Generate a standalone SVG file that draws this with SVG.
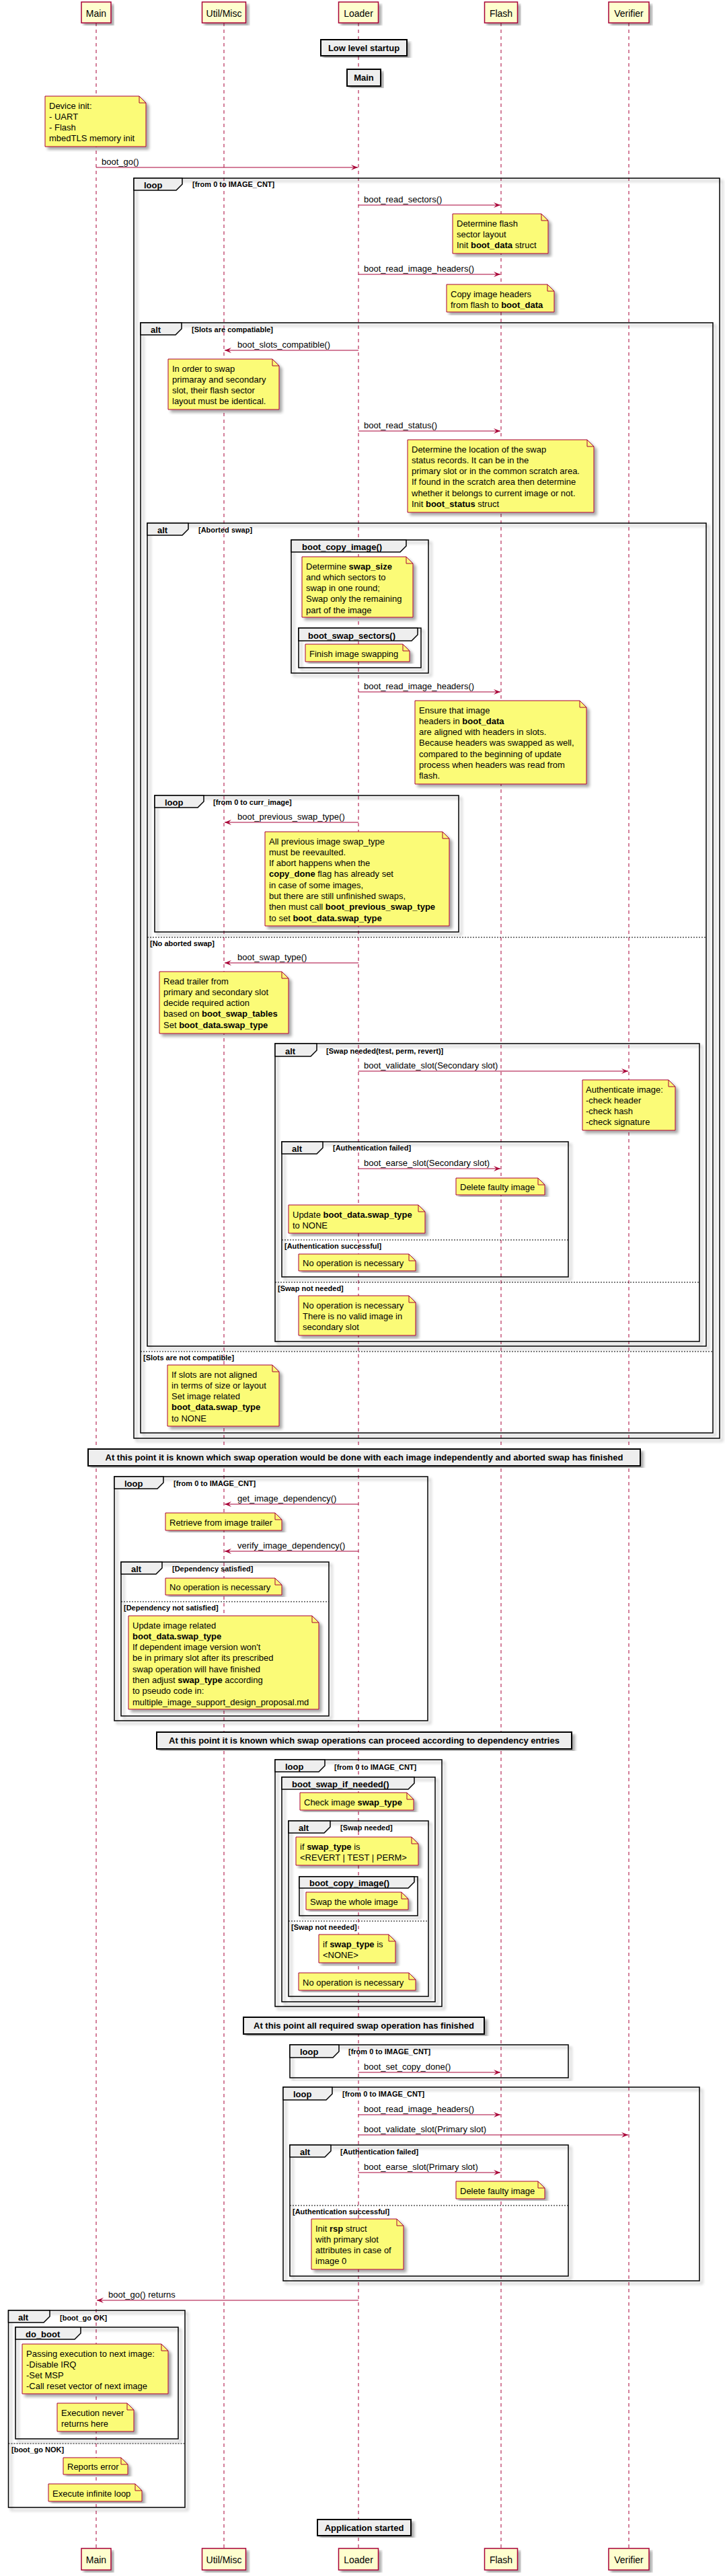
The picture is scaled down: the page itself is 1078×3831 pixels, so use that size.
<svg xmlns="http://www.w3.org/2000/svg" width="1078" height="3831" viewBox="0 0 1078 3831">
<defs>
<filter id="sh" x="-5%" y="-5%" width="115%" height="115%">
<feGaussianBlur in="SourceAlpha" stdDeviation="2"/>
<feOffset dx="4" dy="4" result="o"/>
<feComponentTransfer in="o" result="s"><feFuncA type="linear" slope="0.35"/></feComponentTransfer>
<feMerge><feMergeNode in="s"/><feMergeNode in="SourceGraphic"/></feMerge>
</filter>
<marker id="ah" viewBox="0 0 10 8" refX="10" refY="4" markerWidth="10" markerHeight="8" markerUnits="userSpaceOnUse" orient="auto">
<path d="M0,0 L10,4 L0,8 L4,4 Z" fill="#A80036"/>
</marker>
<style>
text{font-family:"Liberation Sans",Arial,sans-serif;fill:#000}
.ll{stroke:#A80036;stroke-width:1;stroke-dasharray:5,5}
.p{fill:#FEFECE;stroke:#A80036;stroke-width:1.5;filter:url(#sh)}
.pt{font-size:14px}
.msg{stroke:#A80036;stroke-width:1;fill:none;marker-end:url(#ah)}
.mt{font-size:13px}
.nb{fill:#FBFB77;stroke:#A80036;stroke-width:1;filter:url(#sh)}
.nf{fill:none;stroke:#A80036;stroke-width:1}
.nt{font-size:13px}
.fr{fill:none;stroke:#000;stroke-width:1.5;filter:url(#sh)}
.tab{fill:#EEEEEE;stroke:#000;stroke-width:1.5}
.kw{font-size:13px;font-weight:bold}
.fl{font-size:11px;font-weight:bold}
.sep{stroke:#000;stroke-width:1;stroke-dasharray:2,2}
.dl{stroke:#000;stroke-width:1;filter:url(#sh)}
.db{fill:#EEEEEE;stroke:#000;stroke-width:2;filter:url(#sh)}
.dt{font-size:13px;font-weight:bold;text-anchor:middle}
b,.b{font-weight:bold}
</style>
</defs>
<rect x="0" y="0" width="1078" height="3831" fill="#FFFFFF"/>

<g id="lifelines">
<line class="ll" x1="143" y1="34" x2="143" y2="3790"/>
<line class="ll" x1="333" y1="34" x2="333" y2="3790"/>
<line class="ll" x1="533" y1="34" x2="533" y2="3790"/>
<line class="ll" x1="745" y1="34" x2="745" y2="3790"/>
<line class="ll" x1="935" y1="34" x2="935" y2="3790"/>
</g>

<g id="participants">
<g id="p-main"><rect class="p" x="121" y="3" width="44" height="31"/><text class="pt" x="143" y="24.5" text-anchor="middle">Main</text>
<rect class="p" x="121" y="3790" width="44" height="32"/><text class="pt" x="143" y="3811.5" text-anchor="middle">Main</text></g>
<g id="p-util"><rect class="p" x="300.5" y="3" width="65" height="31"/><text class="pt" x="333" y="24.5" text-anchor="middle">Util/Misc</text>
<rect class="p" x="300.5" y="3790" width="65" height="32"/><text class="pt" x="333" y="3811.5" text-anchor="middle">Util/Misc</text></g>
<g id="p-loader"><rect class="p" x="503.5" y="3" width="59" height="31"/><text class="pt" x="533" y="24.5" text-anchor="middle">Loader</text>
<rect class="p" x="503.5" y="3790" width="59" height="32"/><text class="pt" x="533" y="3811.5" text-anchor="middle">Loader</text></g>
<g id="p-flash"><rect class="p" x="720.5" y="3" width="49" height="31"/><text class="pt" x="745" y="24.5" text-anchor="middle">Flash</text>
<rect class="p" x="720.5" y="3790" width="49" height="32"/><text class="pt" x="745" y="3811.5" text-anchor="middle">Flash</text></g>
<g id="p-verifier"><rect class="p" x="905" y="3" width="60" height="31"/><text class="pt" x="935" y="24.5" text-anchor="middle">Verifier</text>
<rect class="p" x="905" y="3790" width="60" height="32"/><text class="pt" x="935" y="3811.5" text-anchor="middle">Verifier</text></g>
</g>

<g id="dividers">
<g id="d1"><line class="dl" x1="0" y1="69.5" x2="1078" y2="69.5"/><line class="dl" x1="0" y1="72.5" x2="1078" y2="72.5"/>
<rect class="db" x="477" y="59" width="128" height="24"/><text class="dt" x="541" y="75.5">Low level startup</text></g>
<g id="d2"><line class="dl" x1="0" y1="114" x2="1078" y2="114"/><line class="dl" x1="0" y1="117" x2="1078" y2="117"/>
<rect class="db" x="516" y="103" width="50" height="25"/><text class="dt" x="541" y="120">Main</text></g>
<g id="d3"><line class="dl" x1="0" y1="2166" x2="1078" y2="2166"/><line class="dl" x1="0" y1="2169" x2="1078" y2="2169"/>
<rect class="db" x="131" y="2155" width="821" height="25"/><text class="dt" x="541.5" y="2172">At this point it is known which swap operation would be done with each image independently and aborted swap has finished</text></g>
<g id="d4"><line class="dl" x1="0" y1="2587" x2="1078" y2="2587"/><line class="dl" x1="0" y1="2590" x2="1078" y2="2590"/>
<rect class="db" x="233" y="2576" width="617" height="25"/><text class="dt" x="541.5" y="2593">At this point it is known which swap operations can proceed according to dependency entries</text></g>
<g id="d5"><line class="dl" x1="0" y1="3011" x2="1078" y2="3011"/><line class="dl" x1="0" y1="3014" x2="1078" y2="3014"/>
<rect class="db" x="362" y="3000" width="358" height="25"/><text class="dt" x="541" y="3017">At this point all required swap operation has finished</text></g>
<g id="d6"><line class="dl" x1="0" y1="3757.5" x2="1078" y2="3757.5"/><line class="dl" x1="0" y1="3760.5" x2="1078" y2="3760.5"/>
<rect class="db" x="472" y="3747" width="139" height="24"/><text class="dt" x="541.5" y="3763.5">Application started</text></g>
</g>

<g id="frames">
<g id="f1"><rect class="fr" x="199" y="265" width="871" height="1874"/><path class="tab" d="M199,265 H271 V274 L262,283 H199 Z"/>
<text class="kw" x="214" y="280">loop</text><text class="fl" x="286" y="278">[from 0 to IMAGE_CNT]</text></g>
<g id="f2"><rect class="fr" x="209" y="480" width="851" height="1651"/><path class="tab" d="M209,480 H270 V489 L261,498 H209 Z"/>
<text class="kw" x="224" y="495">alt</text><text class="fl" x="285" y="494">[Slots are compatiable]</text>
<line class="sep" x1="209" y1="2010" x2="1060" y2="2010"/><text class="fl" x="213" y="2023">[Slots are not compatible]</text></g>
<g id="f3"><rect class="fr" x="219" y="778" width="831" height="1224"/><path class="tab" d="M219,778 H280 V787 L271,796 H219 Z"/>
<text class="kw" x="234" y="793">alt</text><text class="fl" x="295" y="792">[Aborted swap]</text>
<line class="sep" x1="219" y1="1394" x2="1050" y2="1394"/><text class="fl" x="223" y="1407">[No aborted swap]</text></g>
<g id="f4"><rect class="fr" x="433" y="803" width="204" height="198"/><path class="tab" d="M433,803 H604 V812 L595,821 H433 Z"/>
<text class="kw" x="449" y="818">boot_copy_image()</text></g>
<g id="f5"><rect class="fr" x="444" y="934" width="182" height="59"/><path class="tab" d="M444,934 H621 V944 L612,953 H444 Z"/>
<text class="kw" x="458" y="949.5">boot_swap_sectors()</text></g>
<g id="f6"><rect class="fr" x="230" y="1183" width="452" height="203"/><path class="tab" d="M230,1183 H303 V1192 L294,1201 H230 Z"/>
<text class="kw" x="245" y="1198">loop</text><text class="fl" x="317" y="1197">[from 0 to curr_image]</text></g>
<g id="f7"><rect class="fr" x="409" y="1552" width="631" height="443"/><path class="tab" d="M409,1552 H471 V1562 L462,1571 H409 Z"/>
<text class="kw" x="424" y="1568">alt</text><text class="fl" x="485" y="1567">[Swap needed(test, perm, revert)]</text>
<line class="sep" x1="409" y1="1907" x2="1040" y2="1907"/><text class="fl" x="413" y="1920">[Swap not needed]</text></g>
<g id="f8"><rect class="fr" x="419" y="1698" width="426" height="201"/><path class="tab" d="M419,1698 H480 V1707 L471,1716 H419 Z"/>
<text class="kw" x="434" y="1713">alt</text><text class="fl" x="495" y="1711">[Authentication failed]</text>
<line class="sep" x1="419" y1="1844" x2="845" y2="1844"/><text class="fl" x="423" y="1857">[Authentication successful]</text></g>
<g id="f9"><rect class="fr" x="170" y="2196" width="466" height="363"/><path class="tab" d="M170,2196 H243 V2205 L234,2214 H170 Z"/>
<text class="kw" x="185" y="2211">loop</text><text class="fl" x="258" y="2210">[from 0 to IMAGE_CNT]</text></g>
<g id="f10"><rect class="fr" x="180" y="2323" width="309" height="229"/><path class="tab" d="M180,2323 H241 V2332 L232,2341 H180 Z"/>
<text class="kw" x="195" y="2338">alt</text><text class="fl" x="256" y="2337">[Dependency satisfied]</text>
<line class="sep" x1="180" y1="2382" x2="489" y2="2382"/><text class="fl" x="184" y="2395">[Dependency not satisfied]</text></g>
<g id="f11"><rect class="fr" x="409" y="2617" width="248" height="367"/><path class="tab" d="M409,2617 H483 V2626 L474,2635 H409 Z"/>
<text class="kw" x="424" y="2632">loop</text><text class="fl" x="497" y="2632">[from 0 to IMAGE_CNT]</text></g>
<g id="f12"><rect class="fr" x="419" y="2643" width="228" height="334"/><path class="tab" d="M419,2643 H616 V2652 L607,2661 H419 Z"/>
<text class="kw" x="434" y="2658">boot_swap_if_needed()</text></g>
<g id="f13"><rect class="fr" x="429" y="2708" width="208" height="261"/><path class="tab" d="M429,2708 H491 V2717 L482,2726 H429 Z"/>
<text class="kw" x="444" y="2723">alt</text><text class="fl" x="506" y="2722">[Swap needed]</text>
<line class="sep" x1="429" y1="2857" x2="637" y2="2857"/><text class="fl" x="433" y="2870">[Swap not needed]</text></g>
<g id="f14"><rect class="fr" x="445" y="2791" width="176" height="58"/><path class="tab" d="M445,2791 H616 V2799 L607,2808 H445 Z"/>
<text class="kw" x="460" y="2805">boot_copy_image()</text></g>
<g id="f15"><rect class="fr" x="431" y="3041" width="414" height="49"/><path class="tab" d="M431,3041 H504 V3051 L495,3060 H431 Z"/>
<text class="kw" x="446" y="3056">loop</text><text class="fl" x="518" y="3055">[from 0 to IMAGE_CNT]</text></g>
<g id="f16"><rect class="fr" x="421" y="3104" width="619" height="288"/><path class="tab" d="M421,3104 H494 V3114 L485,3123 H421 Z"/>
<text class="kw" x="436" y="3119">loop</text><text class="fl" x="509" y="3118">[from 0 to IMAGE_CNT]</text></g>
<g id="f17"><rect class="fr" x="431" y="3190" width="414" height="195"/><path class="tab" d="M431,3190 H492 V3199 L483,3208 H431 Z"/>
<text class="kw" x="446" y="3205">alt</text><text class="fl" x="506" y="3204">[Authentication failed]</text>
<line class="sep" x1="431" y1="3280" x2="845" y2="3280"/><text class="fl" x="435" y="3293">[Authentication successful]</text></g>
<g id="f18"><rect class="fr" x="12.5" y="3436" width="262.5" height="293"/><path class="tab" d="M12.5,3436 H74 V3445 L65,3454 H12.5 Z"/>
<text class="kw" x="27" y="3451">alt</text><text class="fl" x="89" y="3451">[boot_go OK]</text>
<line class="sep" x1="12.5" y1="3634" x2="275" y2="3634"/><text class="fl" x="17" y="3647">[boot_go NOK]</text></g>
<g id="f19"><rect class="fr" x="23" y="3461" width="242" height="166"/><path class="tab" d="M23,3461 H120 V3470 L111,3479 H23 Z"/>
<text class="kw" x="38" y="3476">do_boot</text></g>
</g>

<g id="notes">
<g id="n1"><path class="nb" d="M67,143 L67,218 L217,218 L217,153 L207,143 Z"/><path class="nf" d="M207,143 L207,153 L217,153"/>
<text class="nt" x="73" y="161.5"><tspan x="73">Device init:</tspan><tspan x="73" dy="16.3">- UART</tspan><tspan x="73" dy="16.3">- Flash</tspan><tspan x="73" dy="16.3">mbedTLS memory init</tspan></text></g>
<g id="n2"><path class="nb" d="M673,318 L673,377 L815,377 L815,328 L805,318 Z"/><path class="nf" d="M805,318 L805,328 L815,328"/>
<text class="nt" x="679" y="336.5"><tspan x="679">Determine flash</tspan><tspan x="679" dy="16.3">sector layout</tspan><tspan x="679" dy="16.3">Init <tspan class="b">boot_data</tspan> struct</tspan></text></g>
<g id="n3"><path class="nb" d="M664,423 L664,464 L824,464 L824,433 L814,423 Z"/><path class="nf" d="M814,423 L814,433 L824,433"/>
<text class="nt" x="670" y="441.5"><tspan x="670">Copy image headers</tspan><tspan x="670" dy="16.3">from flash to <tspan class="b">boot_data</tspan></tspan></text></g>
<g id="n4"><path class="nb" d="M250,534 L250,609 L415,609 L415,544 L405,534 Z"/><path class="nf" d="M405,534 L405,544 L415,544"/>
<text class="nt" x="256" y="552.5"><tspan x="256">In order to swap</tspan><tspan x="256" dy="16.3">primaray and secondary</tspan><tspan x="256" dy="16.3">slot, their flash sector</tspan><tspan x="256" dy="16.3">layout must be identical.</tspan></text></g>
<g id="n5"><path class="nb" d="M606,654 L606,762 L883,762 L883,664 L873,654 Z"/><path class="nf" d="M873,654 L873,664 L883,664"/>
<text class="nt" x="612" y="672.5"><tspan x="612">Determine the location of the swap</tspan><tspan x="612" dy="16.3">status records. It can be in the</tspan><tspan x="612" dy="16.3">primary slot or in the common scratch area.</tspan><tspan x="612" dy="16.3">If found in the scratch area then determine</tspan><tspan x="612" dy="16.3">whether it belongs to current image or not.</tspan><tspan x="612" dy="16.3">Init <tspan class="b">boot_status</tspan> struct</tspan></text></g>
<g id="n6"><path class="nb" d="M449,828 L449,918 L614,918 L614,838 L604,828 Z"/><path class="nf" d="M604,828 L604,838 L614,838"/>
<text class="nt" x="455" y="846.5"><tspan x="455">Determine <tspan class="b">swap_size</tspan></tspan><tspan x="455" dy="16.3">and which sectors to</tspan><tspan x="455" dy="16.3">swap in one round;</tspan><tspan x="455" dy="16.3">Swap only the remaining</tspan><tspan x="455" dy="16.3">part of the image</tspan></text></g>
<g id="n7"><path class="nb" d="M454,958 L454,984 L609,984 L609,968 L599,958 Z"/><path class="nf" d="M599,958 L599,968 L609,968"/>
<text class="nt" x="460" y="976.5">Finish image swapping</text></g>
<g id="n8"><path class="nb" d="M617,1042 L617,1166 L872,1166 L872,1052 L862,1042 Z"/><path class="nf" d="M862,1042 L862,1052 L872,1052"/>
<text class="nt" x="623" y="1060.5"><tspan x="623">Ensure that image</tspan><tspan x="623" dy="16.3">headers in <tspan class="b">boot_data</tspan></tspan><tspan x="623" dy="16.3">are aligned with headers in slots.</tspan><tspan x="623" dy="16.3">Because headers was swapped as well,</tspan><tspan x="623" dy="16.3">compared to the beginning of update</tspan><tspan x="623" dy="16.3">process when headers was read from</tspan><tspan x="623" dy="16.3">flash.</tspan></text></g>
<g id="n9"><path class="nb" d="M394,1237 L394,1377 L668,1377 L668,1247 L658,1237 Z"/><path class="nf" d="M658,1237 L658,1247 L668,1247"/>
<text class="nt" x="400" y="1255.5"><tspan x="400">All previous image swap_type</tspan><tspan x="400" dy="16.3">must be reevaulted.</tspan><tspan x="400" dy="16.3">If abort happens when the</tspan><tspan x="400" dy="16.3"><tspan class="b">copy_done</tspan> flag has already set</tspan><tspan x="400" dy="16.3">in case of some images,</tspan><tspan x="400" dy="16.3">but there are still unfinished swaps,</tspan><tspan x="400" dy="16.3">then must call <tspan class="b">boot_previous_swap_type</tspan></tspan><tspan x="400" dy="16.3">to set <tspan class="b">boot_data.swap_type</tspan></tspan></text></g>
<g id="n10"><path class="nb" d="M237,1445 L237,1537 L429,1537 L429,1455 L419,1445 Z"/><path class="nf" d="M419,1445 L419,1455 L429,1455"/>
<text class="nt" x="243" y="1463.5"><tspan x="243">Read trailer from</tspan><tspan x="243" dy="16.3">primary and secondary slot</tspan><tspan x="243" dy="16.3">decide required action</tspan><tspan x="243" dy="16.3">based on <tspan class="b">boot_swap_tables</tspan></tspan><tspan x="243" dy="16.3">Set  <tspan class="b">boot_data.swap_type</tspan></tspan></text></g>
<g id="n11"><path class="nb" d="M866,1606 L866,1681 L1004,1681 L1004,1616 L994,1606 Z"/><path class="nf" d="M994,1606 L994,1616 L1004,1616"/>
<text class="nt" x="871" y="1624.5"><tspan x="871">Authenticate image:</tspan><tspan x="871" dy="16.3">-check header</tspan><tspan x="871" dy="16.3">-check hash</tspan><tspan x="871" dy="16.3">-check signature</tspan></text></g>
<g id="n12"><path class="nb" d="M678,1752 L678,1777 L810,1777 L810,1762 L800,1752 Z"/><path class="nf" d="M800,1752 L800,1762 L810,1762"/>
<text class="nt" x="684" y="1770">Delete faulty image</text></g>
<g id="n13"><path class="nb" d="M429,1792 L429,1834 L632,1834 L632,1802 L622,1792 Z"/><path class="nf" d="M622,1792 L622,1802 L632,1802"/>
<text class="nt" x="435" y="1810.5"><tspan x="435">Update <tspan class="b">boot_data.swap_type</tspan></tspan><tspan x="435" dy="16.3">to NONE</tspan></text></g>
<g id="n14"><path class="nb" d="M444,1865 L444,1890 L618,1890 L618,1875 L608,1865 Z"/><path class="nf" d="M608,1865 L608,1875 L618,1875"/>
<text class="nt" x="450" y="1883">No operation is necessary</text></g>
<g id="n15"><path class="nb" d="M444,1927 L444,1986 L618,1986 L618,1937 L608,1927 Z"/><path class="nf" d="M608,1927 L608,1937 L618,1937"/>
<text class="nt" x="450" y="1945.5"><tspan x="450">No operation is necessary</tspan><tspan x="450" dy="16.3">There is no valid image in</tspan><tspan x="450" dy="16.3">secondary slot</tspan></text></g>
<g id="n16"><path class="nb" d="M249,2030 L249,2121 L415,2121 L415,2040 L405,2030 Z"/><path class="nf" d="M405,2030 L405,2040 L415,2040"/>
<text class="nt" x="255" y="2048.5"><tspan x="255">If slots are not aligned</tspan><tspan x="255" dy="16.3">in terms of size or layout</tspan><tspan x="255" dy="16.3">Set image related</tspan><tspan x="255" dy="16.3" class="b">boot_data.swap_type</tspan><tspan x="255" dy="16.3">to NONE</tspan></text></g>
<g id="n17"><path class="nb" d="M246,2250 L246,2276 L419,2276 L419,2260 L409,2250 Z"/><path class="nf" d="M409,2250 L409,2260 L419,2260"/>
<text class="nt" x="252" y="2268.5">Retrieve from image trailer</text></g>
<g id="n18"><path class="nb" d="M246,2347 L246,2372 L419,2372 L419,2357 L409,2347 Z"/><path class="nf" d="M409,2347 L409,2357 L419,2357"/>
<text class="nt" x="252" y="2365">No operation is necessary</text></g>
<g id="n19"><path class="nb" d="M191,2403 L191,2542 L474,2542 L474,2413 L464,2403 Z"/><path class="nf" d="M464,2403 L464,2413 L474,2413"/>
<text class="nt" x="197" y="2421.5"><tspan x="197">Update image related</tspan><tspan x="197" dy="16.3" class="b">boot_data.swap_type</tspan><tspan x="197" dy="16.3">If dependent image version won't</tspan><tspan x="197" dy="16.3">be in primary slot after its prescribed</tspan><tspan x="197" dy="16.3">swap operation will have finished</tspan><tspan x="197" dy="16.3">then adjust <tspan class="b">swap_type</tspan> according</tspan><tspan x="197" dy="16.3">to pseudo code in:</tspan><tspan x="197" dy="16.3">multiple_image_support_design_proposal.md</tspan></text></g>
<g id="n20"><path class="nb" d="M446,2666 L446,2692 L615,2692 L615,2676 L605,2666 Z"/><path class="nf" d="M605,2666 L605,2676 L615,2676"/>
<text class="nt" x="452" y="2684.5">Check image <tspan class="b">swap_type</tspan></text></g>
<g id="n21"><path class="nb" d="M440,2732 L440,2774 L622,2774 L622,2742 L612,2732 Z"/><path class="nf" d="M612,2732 L612,2742 L622,2742"/>
<text class="nt" x="446" y="2750.5"><tspan x="446">if <tspan class="b">swap_type</tspan> is</tspan><tspan x="446" dy="16.3">&lt;REVERT | TEST | PERM&gt;</tspan></text></g>
<g id="n22"><path class="nb" d="M455,2814 L455,2840 L607,2840 L607,2824 L597,2814 Z"/><path class="nf" d="M597,2814 L597,2824 L607,2824"/>
<text class="nt" x="461" y="2832.5">Swap the whole image</text></g>
<g id="n23"><path class="nb" d="M474,2877 L474,2919 L588,2919 L588,2887 L578,2877 Z"/><path class="nf" d="M578,2877 L578,2887 L588,2887"/>
<text class="nt" x="480" y="2895.5"><tspan x="480">if <tspan class="b">swap_type</tspan> is</tspan><tspan x="480" dy="16.3">&lt;NONE&gt;</tspan></text></g>
<g id="n24"><path class="nb" d="M444,2934 L444,2960 L618,2960 L618,2944 L608,2934 Z"/><path class="nf" d="M608,2934 L608,2944 L618,2944"/>
<text class="nt" x="450" y="2952.5">No operation is necessary</text></g>
<g id="n25"><path class="nb" d="M678,3244 L678,3270 L810,3270 L810,3254 L800,3244 Z"/><path class="nf" d="M800,3244 L800,3254 L810,3254"/>
<text class="nt" x="684" y="3262.5">Delete faulty image</text></g>
<g id="n26"><path class="nb" d="M463,3300 L463,3375 L600,3375 L600,3310 L590,3300 Z"/><path class="nf" d="M590,3300 L590,3310 L600,3310"/>
<text class="nt" x="469" y="3318.5"><tspan x="469">Init <tspan class="b">rsp</tspan> struct</tspan><tspan x="469" dy="16.3">with primary slot</tspan><tspan x="469" dy="16.3">attributes in case of</tspan><tspan x="469" dy="16.3">image 0</tspan></text></g>
<g id="n27"><path class="nb" d="M33,3486 L33,3560 L250,3560 L250,3496 L240,3486 Z"/><path class="nf" d="M240,3486 L240,3496 L250,3496"/>
<text class="nt" x="39" y="3504.5"><tspan x="39">Passing execution to next image:</tspan><tspan x="39" dy="16.3">-Disable IRQ</tspan><tspan x="39" dy="16.3">-Set MSP</tspan><tspan x="39" dy="16.3">-Call reset vector of next image</tspan></text></g>
<g id="n28"><path class="nb" d="M85,3574 L85,3616 L199,3616 L199,3584 L189,3574 Z"/><path class="nf" d="M189,3574 L189,3584 L199,3584"/>
<text class="nt" x="91" y="3592.5"><tspan x="91">Execution never</tspan><tspan x="91" dy="16.3">returns here</tspan></text></g>
<g id="n29"><path class="nb" d="M94,3655 L94,3680 L190,3680 L190,3665 L180,3655 Z"/><path class="nf" d="M180,3655 L180,3665 L190,3665"/>
<text class="nt" x="100" y="3673">Reports error</text></g>
<g id="n30"><path class="nb" d="M72,3694 L72,3720 L211,3720 L211,3704 L201,3694 Z"/><path class="nf" d="M201,3694 L201,3704 L211,3704"/>
<text class="nt" x="78" y="3712.5">Execute infinite loop</text></g>
</g>

<g id="connectors">
<line class="msg" x1="143" y1="249" x2="532" y2="249"/><text class="mt" x="151" y="244.5">boot_go()</text>
<line class="msg" x1="533" y1="305" x2="744" y2="305"/><text class="mt" x="541" y="300.5">boot_read_sectors()</text>
<line class="msg" x1="533" y1="408" x2="744" y2="408"/><text class="mt" x="541" y="403.5">boot_read_image_headers()</text>
<line class="msg" x1="533" y1="521" x2="334" y2="521"/><text class="mt" x="353" y="516.5">boot_slots_compatible()</text>
<line class="msg" x1="533" y1="641" x2="744" y2="641"/><text class="mt" x="541" y="636.5">boot_read_status()</text>
<line class="msg" x1="533" y1="1029" x2="744" y2="1029"/><text class="mt" x="541" y="1024.5">boot_read_image_headers()</text>
<line class="msg" x1="533" y1="1223" x2="334" y2="1223"/><text class="mt" x="353" y="1218.5">boot_previous_swap_type()</text>
<line class="msg" x1="533" y1="1432" x2="334" y2="1432"/><text class="mt" x="353" y="1427.5">boot_swap_type()</text>
<line class="msg" x1="533" y1="1593" x2="934" y2="1593"/><text class="mt" x="541" y="1588.5">boot_validate_slot(Secondary slot)</text>
<line class="msg" x1="533" y1="1738" x2="744" y2="1738"/><text class="mt" x="541" y="1733.5">boot_earse_slot(Secondary slot)</text>
<line class="msg" x1="533" y1="2237" x2="334" y2="2237"/><text class="mt" x="353" y="2232.5">get_image_dependency()</text>
<line class="msg" x1="533" y1="2307" x2="334" y2="2307"/><text class="mt" x="353" y="2302.5">verify_image_dependency()</text>
<line class="msg" x1="533" y1="3082" x2="744" y2="3082"/><text class="mt" x="541" y="3077.5">boot_set_copy_done()</text>
<line class="msg" x1="533" y1="3145" x2="744" y2="3145"/><text class="mt" x="541" y="3140.5">boot_read_image_headers()</text>
<line class="msg" x1="533" y1="3175" x2="934" y2="3175"/><text class="mt" x="541" y="3170.5">boot_validate_slot(Primary slot)</text>
<line class="msg" x1="533" y1="3231" x2="744" y2="3231"/><text class="mt" x="541" y="3226.5">boot_earse_slot(Primary slot)</text>
<line class="msg" x1="533" y1="3421" x2="144" y2="3421"/><text class="mt" x="161" y="3416.5">boot_go() returns</text>
</g>
</svg>
